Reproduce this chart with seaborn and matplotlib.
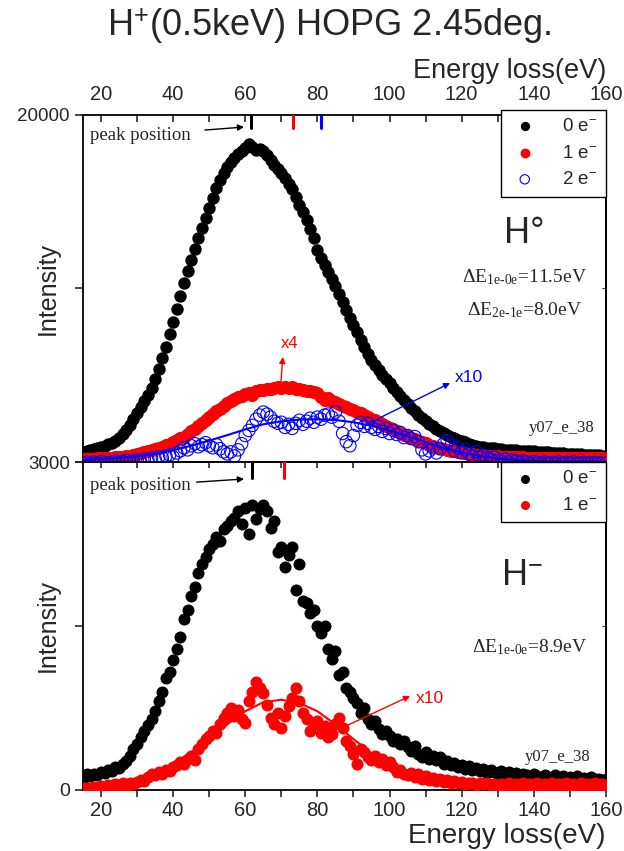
import numpy as np
import pandas as pd
import seaborn as sns
import matplotlib.pyplot as plt
from matplotlib.ticker import MultipleLocator

# energy grid of the measured spectra (eV)
energy = np.arange(15, 161)

# H0 panel: intensities, one value per eV (15..160)
h0_0e = [3480, 3520, 3570, 3620, 3680, 3740, 3800, 3870, 3950, 4050,
         4200, 4380, 4580, 4820, 5100, 5400, 5700, 6000, 6300, 6650,
         7050, 7550, 8100, 8650, 9250, 9850, 10500, 11150, 11750, 12350,
         12900, 13450, 13950, 14450, 14950, 15450, 15950, 16400, 16800, 17150,
         17450, 17700, 17900, 18100, 18250, 18400, 18550, 18450, 18300, 18350,
         18250, 18050, 17800, 17550, 17350, 17150, 16900, 16600, 16350, 16000,
         15600, 15250, 14850, 14400, 13950, 13400, 13000, 12650, 12300, 11950,
         11600, 11250, 10850, 10450, 10050, 9700, 9350, 8990, 8620, 8270,
         7990, 7730, 7490, 7270, 7050, 6850, 6640, 6430, 6220, 6020,
         5840, 5660, 5490, 5320, 5160, 5010, 4880, 4750, 4620, 4520,
         4420, 4330, 4250, 4170, 4100, 4030, 3960, 3900, 3850, 3800,
         3760, 3730, 3710, 3690, 3670, 3650, 3630, 3610, 3600, 3590,
         3570, 3560, 3550, 3540, 3530, 3520, 3510, 3500, 3490, 3470,
         3460, 3450, 3440, 3430, 3420, 3410, 3400, 3390, 3380, 3370,
         3360, 3350, 3340, 3330, 3320, 3310]

h0_1e = [3150, 3155, 3160, 3170, 3180, 3190, 3200, 3210, 3220, 3235,
         3250, 3270, 3290, 3320, 3350, 3390, 3430, 3470, 3520, 3580,
         3640, 3700, 3760, 3820, 3900, 3980, 4070, 4160, 4250, 4380,
         4500, 4640, 4780, 4920, 5060, 5200, 5340, 5480, 5620, 5750,
         5880, 6000, 6100, 6180, 6250, 6340, 6400, 6300, 6480, 6550,
         6520, 6600, 6560, 6620, 6680, 6650, 6700, 6620, 6680, 6600,
         6580, 6550, 6500, 6470, 6420, 6380, 6200, 6050, 6150, 6000,
         5920, 5850, 5770, 5690, 5620, 5540, 5460, 5380, 5290, 5210,
         5120, 5040, 4950, 4860, 4780, 4690, 4600, 4520, 4430, 4350,
         4270, 4190, 4110, 4050, 3980, 3920, 3850, 3780, 3720, 3670,
         3620, 3580, 3560, 3530, 3500, 3470, 3440, 3410, 3380, 3360,
         3340, 3320, 3310, 3300, 3290, 3280, 3270, 3260, 3250, 3240,
         3235, 3230, 3225, 3222, 3220, 3218, 3215, 3212, 3210, 3208,
         3205, 3203, 3200, 3198, 3196, 3194, 3192, 3190, 3189, 3188,
         3187, 3186, 3185, 3184, 3182, 3180]

h0_2e = [2950, 2980, 2900, 3000, 2950, 3020, 2980, 2900, 3000, 3050,
         2980, 3020, 3080, 3000, 3050, 3100, 3020, 3150, 3100, 3200,
         3150, 3250, 3200, 3300, 3350, 3250, 3450, 3550, 3700, 3600,
         3800, 3900, 3750, 3850, 3950, 3800, 3700, 3850, 3650, 3500,
         3400, 3500, 3300, 3600, 3900, 4300, 4550, 4800, 5100, 5300,
         5450, 5350, 5200, 5000, 4900, 4950, 4700, 4850, 4650, 4900,
         5050, 4850, 5000, 5150, 4950, 5200, 5100, 5300, 5350, 5200,
         5450, 5000, 4400, 4000, 3800, 4300, 4800, 4950, 4750, 4900,
         4700, 4600, 4750, 4500, 4650, 4400, 4550, 4350, 4450, 4200,
         4300, 4150, 4250, 4000, 3600, 3400, 3550, 3700, 3450, 3650,
         3900, 4050, 3800, 3550, 3700, 3450, 3600, 3400, 3300, 3500,
         3250, 3350, 3200, 3150, 3250, 3100, 3050, 3150, 3000, 3100,
         3050, 2980, 3050, 3000, 2950, 3020, 2980, 2950, 3000, 2950,
         2980, 2950, 3000, 2950, 2980, 2950, 3000, 2950, 2950, 2980,
         2950, 2950, 2980, 2950, 2950, 2950]

# fitted curve through the 2e- data (every 5 eV)
fit_energy = np.arange(15, 161, 5)
h0_2e_fit = [3100, 3150, 3200, 3280, 3400, 3580, 3800, 4050, 4320, 4600,
             4850, 5000, 5080, 5100, 5060, 4950, 4780, 4540, 4270, 3980,
             3700, 3470, 3300, 3180, 3110, 3070, 3050, 3040, 3035, 3030]

# H- panel
hm_0e = [70, 95, 85, 100, 90, 110, 105, 120, 115, 140,
         135, 160, 175, 210, 250, 280, 320, 360, 395, 430,
         480, 540, 600, 680, 720, 790, 860, 930, 1040, 1100,
         1180, 1240, 1320, 1380, 1420, 1470, 1500, 1540, 1520, 1590,
         1610, 1640, 1660, 1700, 1620, 1720, 1560, 1740, 1650, 1710,
         1740, 1700, 1600, 1640, 1450, 1480, 1360, 1430, 1480, 1220,
         1380, 1150, 1140, 1080, 1100, 1000, 960, 1000, 860, 800,
         850, 700, 720, 620, 600, 560, 530, 470, 500, 430,
         400, 420, 370, 340, 360, 330, 300, 310, 280, 300,
         260, 240, 270, 220, 200, 230, 190, 210, 180, 200,
         160, 175, 150, 165, 140, 155, 130, 145, 120, 135,
         115, 125, 105, 120, 110, 100, 115, 95, 110, 90,
         105, 85, 100, 90, 80, 95, 85, 75, 90, 80,
         70, 90, 75, 85, 70, 80, 65, 85, 70, 75,
         60, 80, 65, 70, 55, 65]

hm_1e = [10, 15, 5, 20, 10, 25, 15, 30, 20, 35,
         30, 40, 25, 45, 35, 50, 60, 55, 80, 95,
         90, 110, 100, 120, 115, 140, 150, 170, 160, 190,
         210, 180, 250, 280, 310, 330, 360, 350, 400, 440,
         470, 500, 450, 490, 430, 410, 540, 600, 660, 620,
         590, 520, 440, 400, 470, 380, 450, 510, 560, 620,
         540, 470, 430, 360, 400, 420, 350, 390, 320, 340,
         400, 440, 380, 300, 270, 220, 160, 250, 230, 200,
         180, 210, 170, 190, 150, 170, 140, 110, 120, 100,
         90, 105, 80, 95, 70, 85, 60, 75, 55, 65,
         50, 60, 45, 55, 40, 50, 35, 45, 40, 30,
         45, 35, 40, 30, 35, 25, 35, 30, 40, 25,
         35, 30, 40, 25, 35, 30, 40, 25, 35, 30,
         40, 30, 35, 25, 40, 30, 35, 25, 40, 30,
         35, 25, 40, 30, 35, 30]

hm_1e_fit = [10, 20, 35, 65, 105, 160, 230, 310, 400, 480,
             535, 550, 530, 480, 400, 310, 225, 155, 100, 60,
             35, 20, 12, 8, 5, 3, 2, 1, 1, 1]

# peak positions (eV) marked on top of each panel
h0_peaks = [61.6, 73.1, 81.1]
hm_peaks = [61.9, 70.8]

sns.set_style('ticks')
plt.rcParams['font.family'] = ['Liberation Sans', 'DejaVu Sans']
plt.rcParams['mathtext.fontset'] = 'custom'
plt.rcParams['mathtext.rm'] = 'Liberation Serif'
plt.rcParams['mathtext.sf'] = 'Liberation Sans'
plt.rcParams['mathtext.it'] = 'Liberation Serif:italic'
plt.rcParams['axes.linewidth'] = 1.3
plt.rcParams['axes.edgecolor'] = 'black'

top = pd.DataFrame({'E': energy, 'e0': h0_0e, 'e1': h0_1e, 'e2': h0_2e})
bot = pd.DataFrame({'E': energy, 'e0': hm_0e, 'e1': hm_1e})

fig = plt.figure(figsize=(6.24, 8.51), dpi=100)
ax1 = fig.add_axes([0.133, 0.457, 0.838, 0.408])
ax2 = fig.add_axes([0.133, 0.0717, 0.838, 0.3855])

leg_kw = dict(loc='upper right', borderaxespad=0, fancybox=False,
              edgecolor='black', framealpha=1, fontsize=13.5,
              handletextpad=1.2, handlelength=1.6, borderpad=0.45,
              labelspacing=0.5, markerscale=0.75)

# ---- top panel: H0 ----
sns.scatterplot(data=top, x='E', y='e0', ax=ax1, color='black', s=80,
                edgecolor='black', linewidth=0, label=r'0 e$^{\mathsf{-}}$', zorder=3)
sns.scatterplot(data=top, x='E', y='e1', ax=ax1, color='red', s=90,
                edgecolor='red', linewidth=0, label=r'1 e$^{\mathsf{-}}$', zorder=3)
sns.scatterplot(data=top, x='E', y='e2', ax=ax1, facecolor='none',
                edgecolor='blue', linewidth=0.8, s=80, label=r'2 e$^{\mathsf{-}}$', zorder=4)
sns.lineplot(x=fit_energy, y=h0_2e_fit, ax=ax1, color='blue', lw=1.5, zorder=5)

for pk, c in zip(h0_peaks, ['black', 'red', 'blue']):
    ax1.axvline(pk, ymin=0.962, ymax=1.0, color=c, lw=2.2, zorder=6)

ax1.set_xlim(15, 160)
ax1.set_ylim(3000, 20000)
ax1.xaxis.set_ticks_position('top')
ax1.xaxis.set_label_position('top')
ax1.set_xticks(np.arange(20, 161, 20))
ax1.xaxis.set_minor_locator(MultipleLocator(10))
ax1.tick_params(axis='x', which='both', direction='in', length=5, width=1.2,
                labelsize=14.5, pad=8, bottom=False)
ax1.set_yticks([3000, 11500, 20000])
ax1.set_yticklabels(['3000', '', '20000'])
ax1.tick_params(axis='y', direction='out', length=6, width=1.2, labelsize=13.5)
ax1.set_xlabel('Energy loss(eV)', fontsize=19.5, loc='right', labelpad=5)
ax1.set_ylabel('Intensity', fontsize=18)
ax1.yaxis.set_label_coords(-0.045, 0.5)
r1 = ax1.secondary_yaxis('right')
r1.set_yticks([3000, 11500, 20000])
r1.tick_params(direction='in', length=3, labelright=False)

ax1.legend(bbox_to_anchor=(1.0, 1.015), **leg_kw)

ax1.annotate('peak position', xy=(0.308, 0.965), xytext=(0.013, 0.942),
             xycoords='axes fraction', textcoords='axes fraction',
             family='Liberation Serif', fontsize=13.5, va='center',
             arrowprops=dict(arrowstyle='-|>', color='black', lw=1,
                             mutation_scale=9, shrinkA=8, shrinkB=0))
ax1.annotate('', xy=(70.4, 8150), xytext=(69.9, 6920),
             arrowprops=dict(arrowstyle='-|>', color='red', lw=1,
                             mutation_scale=9, shrinkA=0, shrinkB=0))
ax1.text(72.2, 8800, 'x4', color='red', fontsize=12, ha='center', va='center')
ax1.annotate('', xy=(116.8, 6870), xytext=(93.2, 4810),
             arrowprops=dict(arrowstyle='-|>', color='blue', lw=1,
                             mutation_scale=9, shrinkA=0, shrinkB=0))
ax1.text(118.2, 7120, 'x10', color='blue', fontsize=12.5, ha='left', va='center')
ax1.text(0.843, 0.657, 'H°', transform=ax1.transAxes, fontsize=26,
         ha='center', va='center')
ax1.text(0.845, 0.533, r'ΔE$_{\text{1e-0e}}$=11.5eV', transform=ax1.transAxes,
         family='Liberation Serif', fontsize=14, ha='center', va='center')
ax1.text(0.845, 0.438, r'ΔE$_{\text{2e-1e}}$=8.0eV', transform=ax1.transAxes,
         family='Liberation Serif', fontsize=14, ha='center', va='center')
ax1.text(0.916, 0.098, 'y07_e_38', transform=ax1.transAxes,
         family='Liberation Serif', fontsize=12, ha='center', va='center')

# ---- bottom panel: H- ----
sns.scatterplot(data=bot, x='E', y='e0', ax=ax2, color='black', s=75,
                edgecolor='black', linewidth=0, label=r'0 e$^{\mathsf{-}}$', zorder=3)
sns.scatterplot(data=bot, x='E', y='e1', ax=ax2, color='red', s=75,
                edgecolor='red', linewidth=0, label=r'1 e$^{\mathsf{-}}$', zorder=3)
sns.lineplot(x=fit_energy, y=hm_1e_fit, ax=ax2, color='red', lw=1.5, zorder=4)

for pk, c in zip(hm_peaks, ['black', 'red']):
    ax2.axvline(pk, ymin=0.95, ymax=1.0, color=c, lw=2.2, zorder=6)

ax2.set_xlim(15, 160)
ax2.set_ylim(0, 2000)
ax2.set_xticks(np.arange(20, 161, 20))
ax2.xaxis.set_minor_locator(MultipleLocator(10))
ax2.tick_params(axis='x', which='both', direction='out', length=5, width=1.2,
                labelsize=14.5, pad=3, top=False)
ax2.set_yticks([0, 1000, 2000])
ax2.set_yticklabels(['0', '', ''])
ax2.tick_params(axis='y', direction='out', length=6, width=1.2, labelsize=14)
ax2.set_xlabel('Energy loss(eV)', fontsize=20, loc='right', labelpad=2)
ax2.set_ylabel('Intensity', fontsize=18)
ax2.yaxis.set_label_coords(-0.045, 0.5)
t2 = ax2.secondary_xaxis('top')
t2.set_xticks(np.arange(20, 161, 10))
t2.tick_params(direction='in', length=4, width=1.2, labeltop=False)
r2 = ax2.secondary_yaxis('right')
r2.set_yticks([0, 1000, 2000])
r2.tick_params(direction='in', length=3, labelright=False)

ax2.legend(bbox_to_anchor=(1.0, 1.0), **leg_kw)

ax2.annotate('peak position', xy=(0.308, 0.948), xytext=(0.013, 0.927),
             xycoords='axes fraction', textcoords='axes fraction',
             family='Liberation Serif', fontsize=13.5, va='center',
             arrowprops=dict(arrowstyle='-|>', color='black', lw=1,
                             mutation_scale=9, shrinkA=2, shrinkB=0))
ax2.annotate('', xy=(105.7, 573), xytext=(88.5, 396),
             arrowprops=dict(arrowstyle='-|>', color='red', lw=1,
                             mutation_scale=9, shrinkA=0, shrinkB=0))
ax2.text(107.2, 555, 'x10', color='red', fontsize=12.5, ha='left', va='center')
ax2.text(0.839, 0.655, r'H$^{\mathsf{-}}$', transform=ax2.transAxes, fontsize=26,
         ha='center', va='center')
ax2.text(0.855, 0.436, r'ΔE$_{\text{1e-0e}}$=8.9eV', transform=ax2.transAxes,
         family='Liberation Serif', fontsize=14, ha='center', va='center')
ax2.text(0.908, 0.10, 'y07_e_38', transform=ax2.transAxes,
         family='Liberation Serif', fontsize=12, ha='center', va='center')

fig.text(0.527, 0.993, r'H$^{\mathsf{+}}$(0.5keV) HOPG 2.45deg.', ha='center',
         va='top', fontsize=26)

fig.savefig('out.png', dpi=100)
